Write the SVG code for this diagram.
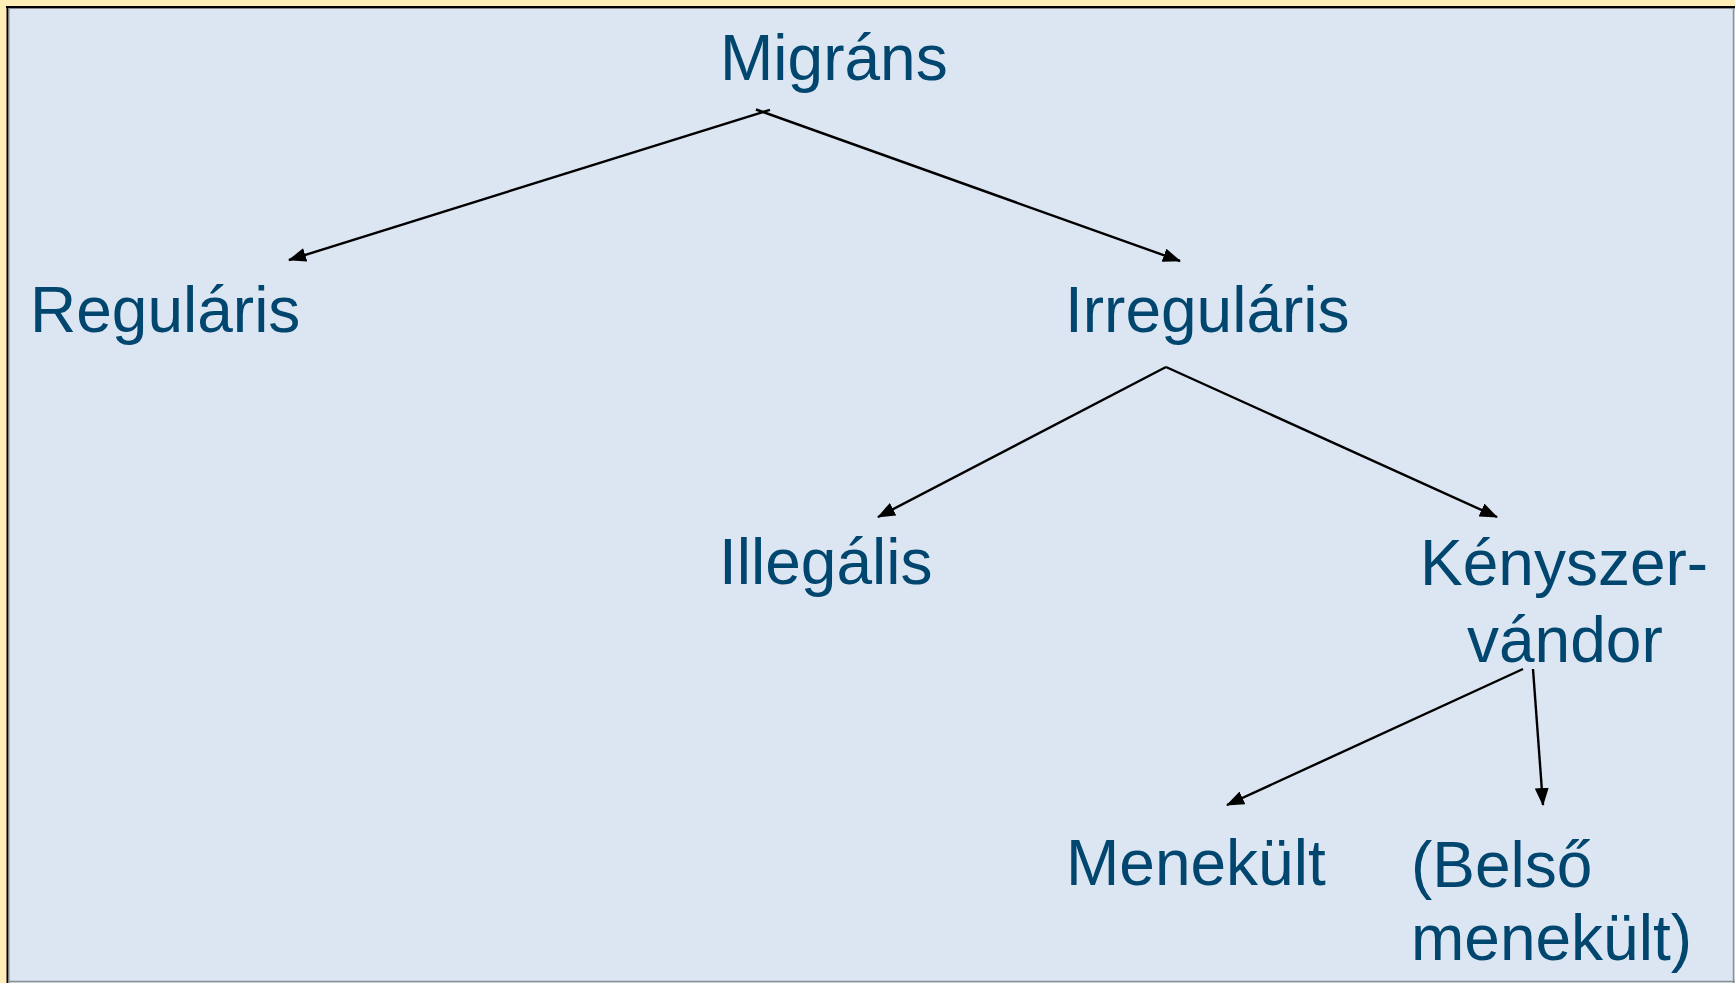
<svg xmlns="http://www.w3.org/2000/svg" width="1735" height="983" viewBox="0 0 1735 983">
<defs>
<marker id="arr" markerWidth="18" markerHeight="14" refX="17" refY="7" orient="auto" markerUnits="userSpaceOnUse">
<path d="M0,0 L18,7 L0,14 Z" fill="#000"/>
</marker>
<style>
.t{font-family:"Liberation Sans",Arial,sans-serif;font-size:64px;fill:#00466E}
.c line{stroke:#000;stroke-width:2.4;fill:none}
.c .a{marker-end:url(#arr)}
</style>
</defs>
<rect x="0" y="0" width="1735" height="983" fill="#FFEDB8"/>
<rect x="7" y="7" width="1728" height="976" fill="#DCE6F2"/>
<line x1="7.5" y1="6" x2="7.5" y2="983" stroke="#000" stroke-width="2"/>
<line x1="6" y1="7" x2="1735" y2="7" stroke="#000" stroke-width="2"/>
<line x1="9" y1="8" x2="9" y2="983" stroke="#888" stroke-width="1"/>
<line x1="8" y1="8.5" x2="1735" y2="8.5" stroke="#888" stroke-width="1"/>
<line x1="1733.5" y1="8" x2="1733.5" y2="983" stroke="#8A8F96" stroke-width="1.5"/>
<line x1="8" y1="981.5" x2="1735" y2="981.5" stroke="#8A8F96" stroke-width="1.5"/>
<g class="c" id="connectors">
<line class="a" x1="770" y1="109.8" x2="289" y2="260"/>
<line class="a" x1="756" y1="109.5" x2="1180" y2="261"/>
<line class="a" x1="1166" y1="367" x2="878" y2="517"/>
<line class="a" x1="1166" y1="367" x2="1497" y2="517"/>
<line class="a" x1="1523" y1="669" x2="1227" y2="805"/>
<line class="a" x1="1533" y1="669" x2="1543" y2="805"/>
</g>
<g id="n-migrans"><text class="t" x="720" y="80">Migráns</text></g>
<g id="n-regularis"><text class="t" x="30" y="332">Reguláris</text></g>
<g id="n-irregularis"><text class="t" x="1065" y="332">Irreguláris</text></g>
<g id="n-illegalis"><text class="t" x="719" y="584">Illegális</text></g>
<g id="n-kenyszer"><text class="t" x="1420" y="585">Kényszer-</text><text class="t" x="1467" y="662">vándor</text></g>
<g id="n-menekult"><text class="t" x="1066" y="885">Menekült</text></g>
<g id="n-belso"><text class="t" x="1411" y="887">(Belső</text><text class="t" x="1411" y="960">menekült)</text></g>
</svg>
